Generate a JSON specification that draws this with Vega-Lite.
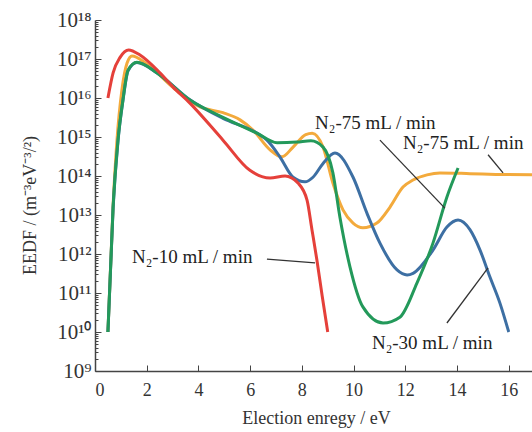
{
  "$schema": "https://vega.github.io/schema/vega-lite/v6.json",
  "autosize": "none",
  "width": 437,
  "height": 351,
  "padding": {"left": 95, "top": 20, "right": 0, "bottom": 61},
  "background": "white",
  "config": {"view": {"stroke": null}},
  "datasets": {
    "curves": [
      {"series": "N2-75b", "x": 0.5, "y": 1e10},
      {"series": "N2-75b", "x": 0.7, "y": 1.8e13},
      {"series": "N2-75b", "x": 0.85, "y": 8.3e14},
      {"series": "N2-75b", "x": 1.04, "y": 1.6e16},
      {"series": "N2-75b", "x": 1.24, "y": 7.9e16},
      {"series": "N2-75b", "x": 1.43, "y": 1.2e17},
      {"series": "N2-75b", "x": 2.0, "y": 7.5e16},
      {"series": "N2-75b", "x": 3.0, "y": 1.9e16},
      {"series": "N2-75b", "x": 4.06, "y": 5.9e15},
      {"series": "N2-75b", "x": 4.95, "y": 4.2e15},
      {"series": "N2-75b", "x": 5.61, "y": 2.75e15},
      {"series": "N2-75b", "x": 6.11, "y": 1.5e15},
      {"series": "N2-75b", "x": 6.77, "y": 4.7e14},
      {"series": "N2-75b", "x": 7.23, "y": 3.1e14},
      {"series": "N2-75b", "x": 7.66, "y": 5.5e14},
      {"series": "N2-75b", "x": 8.15, "y": 1.15e15},
      {"series": "N2-75b", "x": 8.4, "y": 1.25e15},
      {"series": "N2-75b", "x": 8.82, "y": 5.5e14},
      {"series": "N2-75b", "x": 9.2, "y": 6.6e13},
      {"series": "N2-75b", "x": 9.59, "y": 1.35e13},
      {"series": "N2-75b", "x": 9.98, "y": 6.2e12},
      {"series": "N2-75b", "x": 10.36, "y": 4.7e12},
      {"series": "N2-75b", "x": 10.9, "y": 6.2e12},
      {"series": "N2-75b", "x": 11.41, "y": 1.6e13},
      {"series": "N2-75b", "x": 11.91, "y": 5.2e13},
      {"series": "N2-75b", "x": 12.3, "y": 7.9e13},
      {"series": "N2-75b", "x": 12.84, "y": 1.07e14},
      {"series": "N2-75b", "x": 13.34, "y": 1.2e14},
      {"series": "N2-75b", "x": 14.5, "y": 1.15e14},
      {"series": "N2-75b", "x": 15.5, "y": 1.1e14},
      {"series": "N2-75b", "x": 16.9, "y": 1.07e14},

      {"series": "N2-30", "x": 0.5, "y": 1e10},
      {"series": "N2-30", "x": 0.7, "y": 1.5e13},
      {"series": "N2-30", "x": 0.89, "y": 8e14},
      {"series": "N2-30", "x": 1.08, "y": 8.5e15},
      {"series": "N2-30", "x": 1.28, "y": 5e16},
      {"series": "N2-30", "x": 1.62, "y": 8.1e16},
      {"series": "N2-30", "x": 2.4, "y": 4.4e16},
      {"series": "N2-30", "x": 3.67, "y": 9e15},
      {"series": "N2-30", "x": 4.95, "y": 3.0e15},
      {"series": "N2-30", "x": 6.26, "y": 1.26e15},
      {"series": "N2-30", "x": 6.65, "y": 8.3e14},
      {"series": "N2-30", "x": 7.15, "y": 3.1e14},
      {"series": "N2-30", "x": 7.66, "y": 9.3e13},
      {"series": "N2-30", "x": 8.12, "y": 7.1e13},
      {"series": "N2-30", "x": 8.43, "y": 9.3e13},
      {"series": "N2-30", "x": 8.82, "y": 2.1e14},
      {"series": "N2-30", "x": 9.28, "y": 3.9e14},
      {"series": "N2-30", "x": 9.98, "y": 9.3e13},
      {"series": "N2-30", "x": 10.52, "y": 1.1e13},
      {"series": "N2-30", "x": 11.02, "y": 1.9e12},
      {"series": "N2-30", "x": 11.68, "y": 3.9e11},
      {"series": "N2-30", "x": 12.07, "y": 2.9e11},
      {"series": "N2-30", "x": 12.3, "y": 3.2e11},
      {"series": "N2-30", "x": 13.07, "y": 1.26e12},
      {"series": "N2-30", "x": 13.61, "y": 4.9e12},
      {"series": "N2-30", "x": 14.04, "y": 7.4e12},
      {"series": "N2-30", "x": 14.5, "y": 4.2e12},
      {"series": "N2-30", "x": 14.89, "y": 1.26e12},
      {"series": "N2-30", "x": 15.27, "y": 2.6e11},
      {"series": "N2-30", "x": 15.66, "y": 5.5e10},
      {"series": "N2-30", "x": 16.0, "y": 1e10},

      {"series": "N2-75a", "x": 0.5, "y": 1e10},
      {"series": "N2-75a", "x": 0.7, "y": 1.6e13},
      {"series": "N2-75a", "x": 0.89, "y": 8.3e14},
      {"series": "N2-75a", "x": 1.08, "y": 8.9e15},
      {"series": "N2-75a", "x": 1.28, "y": 5.2e16},
      {"series": "N2-75a", "x": 1.62, "y": 8.3e16},
      {"series": "N2-75a", "x": 2.4, "y": 4.4e16},
      {"series": "N2-75a", "x": 3.67, "y": 8.9e15},
      {"series": "N2-75a", "x": 4.95, "y": 3.2e15},
      {"series": "N2-75a", "x": 6.26, "y": 1.26e15},
      {"series": "N2-75a", "x": 7.04, "y": 7.1e14},
      {"series": "N2-75a", "x": 7.81, "y": 7.4e14},
      {"series": "N2-75a", "x": 8.35, "y": 8.0e14},
      {"series": "N2-75a", "x": 8.82, "y": 5.5e14},
      {"series": "N2-75a", "x": 9.2, "y": 1.2e14},
      {"series": "N2-75a", "x": 9.47, "y": 8.9e12},
      {"series": "N2-75a", "x": 9.86, "y": 4.7e11},
      {"series": "N2-75a", "x": 10.36, "y": 4.4e10},
      {"series": "N2-75a", "x": 11.14, "y": 1.7e10},
      {"series": "N2-75a", "x": 11.79, "y": 2.4e10},
      {"series": "N2-75a", "x": 12.45, "y": 1.8e11},
      {"series": "N2-75a", "x": 13.07, "y": 1.9e12},
      {"series": "N2-75a", "x": 13.61, "y": 2.9e13},
      {"series": "N2-75a", "x": 14.04, "y": 1.6e14},

      {"series": "N2-10", "x": 0.5, "y": 1e16},
      {"series": "N2-10", "x": 0.7, "y": 4.4e16},
      {"series": "N2-10", "x": 0.97, "y": 1.1e17},
      {"series": "N2-10", "x": 1.3, "y": 1.7e17},
      {"series": "N2-10", "x": 1.74, "y": 1.26e17},
      {"series": "N2-10", "x": 2.51, "y": 4.4e16},
      {"series": "N2-10", "x": 3.02, "y": 1.9e16},
      {"series": "N2-10", "x": 3.67, "y": 7.4e15},
      {"series": "N2-10", "x": 4.95, "y": 8.3e14},
      {"series": "N2-10", "x": 5.99, "y": 1.4e14},
      {"series": "N2-10", "x": 6.77, "y": 8.9e13},
      {"series": "N2-10", "x": 7.35, "y": 1.0e14},
      {"series": "N2-10", "x": 7.85, "y": 6.6e13},
      {"series": "N2-10", "x": 8.2, "y": 2.4e13},
      {"series": "N2-10", "x": 8.39, "y": 4.2e12},
      {"series": "N2-10", "x": 8.58, "y": 7.1e11},
      {"series": "N2-10", "x": 8.78, "y": 8.9e10},
      {"series": "N2-10", "x": 9.0, "y": 1e10}
    ],
    "labels": [
      {"text": "N₂-10 mL / min", "x": 1.43, "y": 8.3e11},
      {"text": "N₂-75 mL / min", "x": 8.51, "y": 2.3e15},
      {"text": "N₂-75 mL / min", "x": 11.91, "y": 7.1e14},
      {"text": "N₂-30 mL / min", "x": 10.71, "y": 5.2e9}
    ],
    "leaders": [
      {"x": 6.65, "y": 7.4e11, "x2": 8.51, "y2": 5.9e11},
      {"x": 11.02, "y": 8.3e14, "x2": 13.53, "y2": 1.5e13},
      {"x": 15.2, "y": 3.5e14, "x2": 15.78, "y2": 1.2e14},
      {"x": 13.61, "y": 1.7e10, "x2": 15.2, "y2": 4.4e11}
    ]
  },
  "layer": [
    {
      "mark": {"type": "rule", "color": "#444", "strokeWidth": 1.2},
      "encoding": {"y": {"datum": 1e18, "type": "quantitative", "scale": {"type": "log", "domain": [1e9, 1e18], "nice": false}}}
    },
    {
      "data": {"name": "curves"},
      "mark": {"type": "line", "interpolate": "monotone", "strokeWidth": 3, "clip": true},
      "encoding": {
        "x": {
          "field": "x", "type": "quantitative",
          "scale": {"domain": [0, 16.9], "nice": false, "zero": false},
          "axis": {
            "values": [0, 2, 4, 6, 8, 10, 12, 14, 16],
            "title": "Election enregy / eV",
            "titleFont": "Liberation Serif", "titleFontSize": 18, "titleFontWeight": "normal", "titleColor": "#333",
            "titleY": 47, "titleX": 221, "titleBaseline": "middle",
            "labelFont": "Liberation Serif", "labelFontSize": 18, "labelColor": "#333",
            "labelPadding": 16,
            "tickSize": -6, "tickColor": "#444", "domainColor": "#444", "domainWidth": 1.5,
            "grid": false
          }
        },
        "y": {
          "field": "y", "type": "quantitative",
          "scale": {"type": "log", "domain": [1e9, 1e18], "nice": false},
          "axis": {
            "values": [1e9,2e9,3e9,4e9,5e9,6e9,7e9,8e9,9e9,
                       1e10,2e10,3e10,4e10,5e10,6e10,7e10,8e10,9e10,
                       1e11,2e11,3e11,4e11,5e11,6e11,7e11,8e11,9e11,
                       1e12,2e12,3e12,4e12,5e12,6e12,7e12,8e12,9e12,
                       1e13,2e13,3e13,4e13,5e13,6e13,7e13,8e13,9e13,
                       1e14,2e14,3e14,4e14,5e14,6e14,7e14,8e14,9e14,
                       1e15,2e15,3e15,4e15,5e15,6e15,7e15,8e15,9e15,
                       1e16,2e16,3e16,4e16,5e16,6e16,7e16,8e16,9e16,
                       1e17,2e17,3e17,4e17,5e17,6e17,7e17,8e17,9e17,1e18],
            "labelExpr": "abs(log(datum.value)/LN10 - round(log(datum.value)/LN10)) < 0.01 ? '10' + ['⁹','¹⁰','¹¹','¹²','¹³','¹⁴','¹⁵','¹⁶','¹⁷','¹⁸'][round(log(datum.value)/LN10) - 9] : ''",
            "labelFont": "Liberation Serif", "labelFontSize": 21, "labelColor": "#333",
            "labelPadding": 10, "labelOverlap": false,
            "tickSize": {"condition": {"test": "abs(log(datum.value)/LN10 - round(log(datum.value)/LN10)) < 0.01", "value": -6}, "value": -3},
            "tickColor": "#444", "domainColor": "#444", "domainWidth": 1.5,
            "grid": false,
            "title": "EEDF / (m⁻³eV⁻³/²)",
            "titleFont": "Liberation Serif", "titleFontSize": 18, "titleFontWeight": "normal", "titleColor": "#333",
            "titleX": -65, "titleY": 185, "titleAngle": -90, "titleAlign": "center", "titleBaseline": "middle"
          }
        },
        "color": {
          "field": "series", "type": "nominal", "legend": null,
          "scale": {"domain": ["N2-75b", "N2-30", "N2-75a", "N2-10"], "range": ["#f3aa3c", "#3d6fa3", "#23995a", "#e5403a"]}
        }
      }
    },
    {
      "data": {"name": "leaders"},
      "mark": {"type": "rule", "color": "#333", "strokeWidth": 1.3},
      "encoding": {
        "x": {"field": "x", "type": "quantitative"},
        "y": {"field": "y", "type": "quantitative"},
        "x2": {"field": "x2"},
        "y2": {"field": "y2"}
      }
    },
    {
      "data": {"name": "labels"},
      "mark": {"type": "text", "align": "left", "baseline": "middle", "font": "Liberation Serif", "fontSize": 19, "color": "#222"},
      "encoding": {
        "x": {"field": "x", "type": "quantitative"},
        "y": {"field": "y", "type": "quantitative"},
        "text": {"field": "text"}
      }
    }
  ]
}
